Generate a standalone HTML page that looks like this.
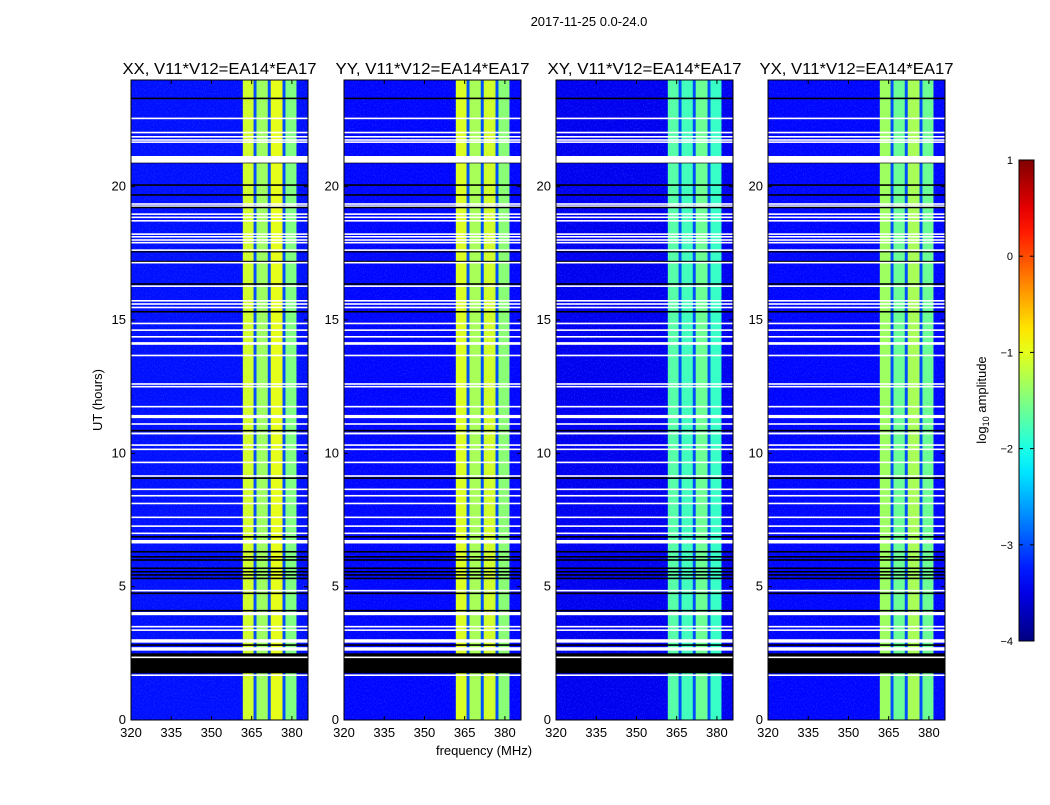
<!DOCTYPE html>
<html><head><meta charset="utf-8"><style>
body{margin:0;background:#fff;width:1050px;height:800px;overflow:hidden}
svg{font-family:"Liberation Sans","DejaVu Sans",sans-serif}
</style></head><body>
<svg id="fig" width="1050" height="800" xmlns="http://www.w3.org/2000/svg">
<text x="589" y="26" font-size="13" text-anchor="middle">2017-11-25 0.0-24.0</text>
<text x="102" y="400" font-size="13" text-anchor="middle" transform="rotate(-90 102 400)">UT (hours)</text>
<text x="484" y="755" font-size="13" text-anchor="middle">frequency (MHz)</text>
</svg>
<script>
const panelTitles = ["XX, V11*V12=EA14*EA17","YY, V11*V12=EA14*EA17","XY, V11*V12=EA14*EA17","YX, V11*V12=EA14*EA17"];
const bandEdges = [[361.7,365.7],[366.8,371.0],[372.1,376.5],[377.6,381.7]];
const bandLevels = [[-1.1,-1.35,-1.0,-1.5],[-1.05,-1.3,-1.1,-1.45],[-1.7,-1.8,-1.6,-1.85],[-1.35,-1.6,-1.3,-1.6]];
const backgroundLevels = [-3.3,-3.35,-3.45,-3.35];
const stripeLevel = -3.0;
const whiteRows = [[22.53,22.59],[22.0,22.06],[21.84,21.9],[21.72,21.78],[21.64,21.7],[20.9,21.15],[19.32,19.38],[19.25,19.3],[18.94,19.0],[18.82,18.88],[18.69,18.75],[18.19,18.25],[18.09,18.15],[17.97,18.03],[17.87,17.93],[17.59,17.65],[17.12,17.18],[16.24,16.3],[15.69,15.75],[15.57,15.63],[15.44,15.5],[14.84,14.9],[14.59,14.65],[14.34,14.4],[14.07,14.17],[13.64,13.7],[12.57,12.63],[12.47,12.53],[11.72,11.78],[11.32,11.44],[11.07,11.13],[10.71,10.78],[10.28,10.34],[10.12,10.18],[9.63,9.69],[9.12,9.18],[8.62,8.68],[8.38,8.44],[8.09,8.15],[7.57,7.63],[7.24,7.3],[6.97,7.03],[6.62,6.75],[4.82,4.88],[3.93,4.05],[3.47,3.53],[3.34,3.4],[2.9,3.03],[2.6,2.73],[2.32,2.38],[1.65,1.71]];
const blackRows = [[23.28,23.34],[20.88,20.92],[20.03,20.09],[19.66,19.72],[19.19,19.25],[17.54,17.58],[17.16,17.22],[16.32,16.38],[15.28,15.34],[10.82,10.88],[9.04,9.1],[6.84,6.9],[6.28,6.34],[6.09,6.15],[5.97,6.03],[5.66,5.72],[5.53,5.59],[5.41,5.47],[5.28,5.34],[4.72,4.78],[4.07,4.13],[2.78,2.84],[1.75,2.5]];
const xTicks = [320,335,350,365,380];
const yTicks = [0,5,10,15,20];
const cbTicks = [-4,-3,-2,-1,0,1];

const NS="http://www.w3.org/2000/svg";
const svg=document.getElementById('fig');
const panelX=[131,344,556,768], PW=177, PT=80, PB=720;
const fmin=320, fmax=386, hmin=0, hmax=24;
function jet(v){const t=Math.max(0,Math.min(1,(v+4)/5));const c=x=>Math.round(255*Math.max(0,Math.min(1,x)));
 return `rgb(${c(1.5-Math.abs(4*t-3))},${c(1.5-Math.abs(4*t-2))},${c(1.5-Math.abs(4*t-1))})`;}
function mk(tag,attrs,parent){const e=document.createElementNS(NS,tag);for(const k in attrs)e.setAttribute(k,attrs[k]);(parent||svg).appendChild(e);return e;}
function fmt(v){return v<0?'\u2212'+Math.abs(v):String(v);}

const defs=mk('defs',{});
const flt=mk('filter',{id:'noise',x:0,y:0,width:'100%',height:'100%'},defs);
mk('feTurbulence',{type:'fractalNoise',baseFrequency:'0.9 0.6',numOctaves:1,seed:3,result:'n'},flt);
mk('feColorMatrix',{type:'matrix',values:'0 0 0 0 0.15  0 0 0 0 0.4  0 0 0 0 1  0 0 0 -2.2 1.1'},flt);

panelTitles.forEach((title,p)=>{
 const x0=panelX[p];
 const xs=f=>x0+(f-fmin)/(fmax-fmin)*PW;
 const ys=h=>PB-(h-hmin)/(hmax-hmin)*(PB-PT);
 const g=mk('g',{});
 
 
 const bg=mk('rect',{x:x0,y:PT,width:PW,height:PB-PT,fill:jet(backgroundLevels[p])},g);
 
 
 const nz=mk('rect',{x:x0,y:PT,width:PW,height:PB-PT,fill:'#fff',filter:'url(#noise)',opacity:0.3},g);
 
 
 const st=mk('rect',{x:xs(bandEdges[0][0]),y:PT,width:xs(bandEdges[3][1])-xs(bandEdges[0][0]),height:PB-PT,fill:jet(stripeLevel)},g);
 
 
 bandEdges.forEach((b,i)=>{
  const r=mk('rect',{x:xs(b[0]),y:PT,width:xs(b[1])-xs(b[0]),height:PB-PT,fill:jet(bandLevels[p][i])},g);
  
  
 });
 blackRows.forEach(r=>{
  const e=mk('rect',{x:x0,y:ys(r[1]),width:PW,height:Math.max(1.2,ys(r[0])-ys(r[1])),fill:'#000'},g);
  
  
 });
 whiteRows.forEach(r=>{
  const e=mk('rect',{x:x0,y:ys(r[1]),width:PW,height:Math.max(1.4,ys(r[0])-ys(r[1])),fill:'#fff'},g);
  
  
 });
 const fr=mk('rect',{x:x0,y:PT,width:PW,height:PB-PT,fill:'none',stroke:'#000','stroke-width':1},g);
 
 
 const t=mk('text',{x:x0+PW/2,y:PT-6,'font-size':16,'text-anchor':'middle',textLength:194,lengthAdjust:'spacingAndGlyphs'},g);t.textContent=title;
 
 
 xTicks.forEach(v=>{
  mk('line',{x1:xs(v),x2:xs(v),y1:PB,y2:PB-4,stroke:'#000'},g);
  mk('line',{x1:xs(v),x2:xs(v),y1:PT,y2:PT+4,stroke:'#000'},g);
  const l=mk('text',{x:xs(v),y:PB+17,'font-size':13,'text-anchor':'middle'},g);l.textContent=v;
  
  
 });
 yTicks.forEach(v=>{
  mk('line',{x1:x0,x2:x0+4,y1:ys(v),y2:ys(v),stroke:'#000'},g);
  mk('line',{x1:x0+PW,x2:x0+PW-4,y1:ys(v),y2:ys(v),stroke:'#000'},g);
  const l=mk('text',{x:x0-5,y:ys(v)+4,'font-size':13,'text-anchor':'end'},g);l.textContent=v;
  
  
 });
});

// colorbar
const cbX=1019,cbW=15,cbT=160,cbB=641;
const cy=v=>cbB-(v+4)/5*(cbB-cbT);
const grad=mk('linearGradient',{id:'jetg',x1:0,y1:1,x2:0,y2:0},defs);
for(let i=0;i<=20;i++){const v=-4+i*0.25;mk('stop',{offset:i/20,'stop-color':jet(v)},grad);}
const cb=mk('rect',{x:cbX,y:cbT,width:cbW,height:cbB-cbT,fill:'url(#jetg)',stroke:'#000','stroke-width':1});


cbTicks.forEach(v=>{
 mk('line',{x1:cbX,x2:cbX+4,y1:cy(v),y2:cy(v),stroke:'#000'});
 mk('line',{x1:cbX+cbW,x2:cbX+cbW-4,y1:cy(v),y2:cy(v),stroke:'#000'});
 const l=mk('text',{x:cbX-6,y:cy(v)+4,'font-size':11,'text-anchor':'end'});l.textContent=fmt(v);
 
 
});
const cl=mk('text',{x:986,y:400,'font-size':13,'text-anchor':'middle',transform:'rotate(-90 986 400)'});


cl.innerHTML='log<tspan font-size="9" dy="3">10</tspan><tspan dy="-3"> amplitude</tspan>';
</script>
</body></html>
